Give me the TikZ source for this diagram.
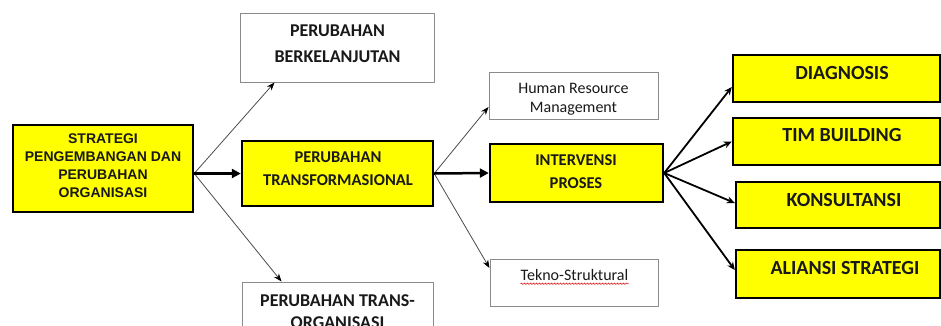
\documentclass[tikz,border=0pt]{standalone}
\usepackage{fontspec}
\setmainfont{Carlito}
\newfontfamily\arialfont{Liberation Sans}
\usetikzlibrary{arrows.meta,decorations.pathmorphing}
\definecolor{boxyellow}{HTML}{FFFF00}
\definecolor{thingray}{HTML}{8A8A8A}
\tikzset{
  ybox/.style={draw=black, fill=boxyellow, line width=2.4pt, inner sep=0pt, rectangle},
  wbox/.style={draw=thingray, fill=white, line width=1pt, inner sep=0pt, rectangle},
  txt/.style={inner sep=0pt, anchor=base, align=center, text=black!90},
  thinarr/.style={draw=black!70, line width=0.8pt, -{Stealth[length=8pt,width=6pt,black]}},
  thickarr/.style={draw=black, line width=2.5pt, -{Triangle[length=9pt,width=9pt]}},
  medarr/.style={draw=black, line width=1.8pt, -{Stealth[length=8pt,width=7pt]}},
}
\begin{document}
\begin{tikzpicture}[x=1pt,y=-1pt]
\useasboundingbox (0,0) rectangle (941,325);
\clip (0,0) rectangle (941,325);
\fill[white] (0,0) rectangle (941,325);

% boxes
\node[ybox, minimum width=180pt, minimum height=87pt] (box1) at (103,168.5) {};
\node[wbox, minimum width=194pt, minimum height=69pt] (berk) at (337,47.5) {};
\node[ybox, minimum width=191pt, minimum height=65pt] (transf) at (337.5,173.5) {};
\node[wbox, minimum width=191pt, minimum height=68pt] (torg) at (337.5,316) {};
\node[wbox, minimum width=169pt, minimum height=47pt] (hrm) at (573.5,95.5) {};
\node[ybox, minimum width=173pt, minimum height=58pt] (intv) at (576.5,173) {};
\node[wbox, minimum width=168pt, minimum height=47pt] (tek) at (574,282.5) {};
\node[ybox, minimum width=207pt, minimum height=47pt] (diag) at (836.5,78.5) {};
\node[ybox, minimum width=207pt, minimum height=47pt] (tim) at (836.5,141.5) {};
\node[ybox, minimum width=204pt, minimum height=46pt] (kons) at (838,205) {};
\node[ybox, minimum width=204pt, minimum height=48pt] (alia) at (838,274) {};

% texts (anchor base = baseline of last line)
\node[txt, font=\arialfont\bfseries\fontsize{14pt}{18pt}\selectfont] (box1t) at (103,197) {STRATEGI\\PENGEMBANGAN DAN\\PERUBAHAN\\ORGANISASI};
\node[txt, font=\bfseries\fontsize{18pt}{26pt}\selectfont] (berkt) at (337.5,62) {PERUBAHAN\\BERKELANJUTAN};
\node[txt, font=\bfseries\fontsize{16.5pt}{23pt}\selectfont] (transft) at (338,185) {PERUBAHAN\\TRANSFORMASIONAL};
\node[txt, font=\bfseries\fontsize{18pt}{22pt}\selectfont] (torgt) at (337.5,328) {PERUBAHAN TRANS-\\ORGANISASI};
\node[txt, font=\fontsize{16pt}{19pt}\selectfont] (hrmt) at (573.5,112) {Human Resource\\Management};
\node[txt, font=\bfseries\fontsize{16.5pt}{23pt}\selectfont] (intvt) at (576,188) {INTERVENSI\\PROSES};
\node[txt, font=\fontsize{16pt}{19pt}\selectfont] (tekt) at (574.5,280.7) {Tekno-Struktural};
\node[txt, font=\bfseries\fontsize{20pt}{24pt}\selectfont] (diagt) at (842,79.3) {DIAGNOSIS};
\node[txt, font=\bfseries\fontsize{20pt}{24pt}\selectfont] (timt) at (842,141.7) {TIM BUILDING};
\node[txt, font=\bfseries\fontsize{20pt}{24pt}\selectfont] (konst) at (844,206) {KONSULTANSI};
\node[txt, font=\bfseries\fontsize{20pt}{24pt}\selectfont] (aliat) at (845,274) {ALIANSI STRATEGI};

% spell-check squiggle
\draw[red!85!black, line width=0.5pt, decorate, decoration={snake, amplitude=0.7pt, segment length=3pt}]
  ([yshift=-3pt]tekt.base west) -- ([yshift=-3pt]tekt.base east);

% connectors
\coordinate (o1) at (box1.east |- transf.west);
\draw[thinarr] (o1) -- ([xshift=35pt]berk.south west);
\draw[thinarr] (o1) -- ([xshift=40pt]torg.north west);
\draw[thickarr] (o1) -- (transf.west);

\draw[thinarr] (transf.east) -- ([yshift=-11.5pt]hrm.west);
\draw[thinarr] (transf.east) -- ([yshift=14.5pt]tek.west);
\draw[thickarr] (transf.east) -- (intv.west);

\draw[medarr] (intv.east) -- ([yshift=-8.5pt]diag.west);
\draw[medarr] (intv.east) -- (tim.west);
\draw[medarr] (intv.east) -- ([yshift=2pt]kons.west);
\draw[medarr] (intv.east) -- ([yshift=4pt]alia.west);
\end{tikzpicture}
\end{document}
